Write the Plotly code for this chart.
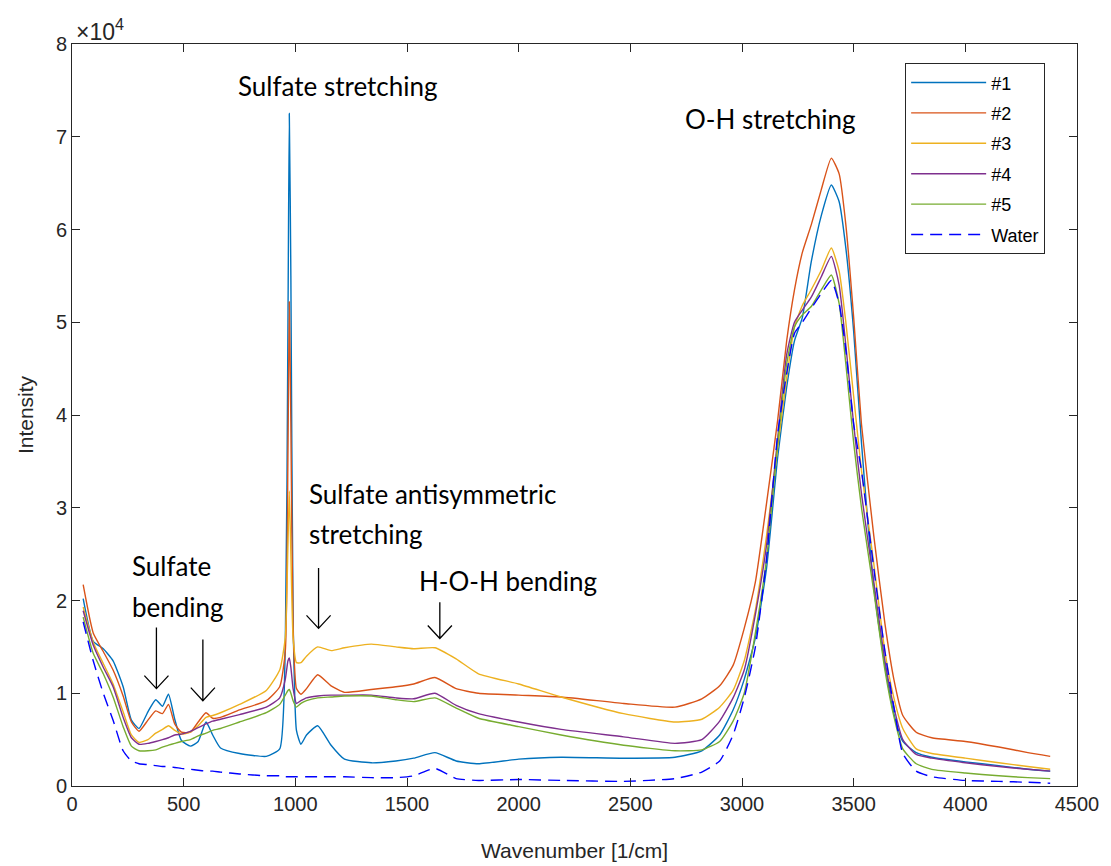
import plotly.graph_objects as go

# Raman shift grid (1/cm), shared by every spectrum
wavenumber = [50, 95, 140, 184, 229, 266, 300, 340, 375, 405, 432, 460, 490, 530, 565,
              600, 630, 665, 750, 870, 930, 955, 967, 973, 980, 990, 1005, 1025, 1050,
              1100, 1160, 1220, 1340, 1450, 1530, 1625, 1720, 1820, 2000, 2190, 2470,
              2700, 2820, 2900, 2960, 3010, 3060, 3110, 3160, 3200, 3235, 3270, 3310,
              3355, 3400, 3435, 3465, 3500, 3535, 3590, 3640, 3680, 3720, 3780, 3850,
              4000, 4150, 4280, 4380]

# Intensities in units of 1e4 counts
sample1 = [2.02, 1.56, 1.48, 1.35, 1.07, 0.71, 0.62, 0.80, 0.93, 0.86, 0.99, 0.72, 0.49,
           0.43, 0.48, 0.69, 0.55, 0.41, 0.35, 0.32, 0.40, 1.50, 5.00, 7.25, 5.50, 1.80,
           0.60, 0.45, 0.55, 0.65, 0.44, 0.29, 0.25, 0.27, 0.30, 0.36, 0.27, 0.24, 0.29,
           0.31, 0.30, 0.31, 0.38, 0.55, 0.82, 1.15, 1.60, 2.35, 3.55, 4.30, 4.80, 5.05,
           5.65, 6.15, 6.48, 6.30, 5.80, 4.90, 3.70, 2.15, 1.30, 0.78, 0.48, 0.36, 0.31,
           0.26, 0.22, 0.18, 0.16]
sample2 = [2.17, 1.65, 1.45, 1.25, 0.97, 0.69, 0.59, 0.71, 0.81, 0.78, 0.88, 0.67, 0.58,
           0.58, 0.69, 0.79, 0.73, 0.74, 0.82, 0.92, 1.07, 1.45, 3.60, 5.22, 3.90, 1.70,
           1.05, 0.99, 1.05, 1.20, 1.08, 1.01, 1.04, 1.07, 1.10, 1.17, 1.05, 1.00, 0.98,
           0.96, 0.89, 0.85, 0.94, 1.08, 1.30, 1.70, 2.20, 3.05, 3.95, 4.80, 5.35, 5.75,
           6.05, 6.43, 6.77, 6.60, 6.05, 5.05, 3.90, 2.70, 1.75, 1.15, 0.76, 0.58, 0.52,
           0.48, 0.42, 0.36, 0.32]
sample3 = [1.93, 1.55, 1.32, 1.10, 0.80, 0.55, 0.47, 0.50, 0.57, 0.61, 0.65, 0.60, 0.56,
           0.58, 0.65, 0.74, 0.76, 0.79, 0.88, 1.03, 1.25, 1.60, 2.60, 3.18, 2.50, 1.60,
           1.33, 1.33, 1.40, 1.50, 1.46, 1.49, 1.53, 1.50, 1.48, 1.49, 1.37, 1.21, 1.10,
           0.96, 0.78, 0.69, 0.72, 0.85, 1.03, 1.35, 1.90, 2.70, 3.65, 4.40, 4.95, 5.18,
           5.35, 5.56, 5.80, 5.55, 5.00, 4.20, 3.40, 2.40, 1.45, 0.95, 0.62, 0.40, 0.35,
           0.30, 0.25, 0.21, 0.18]
sample4 = [1.89, 1.52, 1.28, 1.07, 0.74, 0.52, 0.45, 0.46, 0.48, 0.50, 0.52, 0.55, 0.56,
           0.59, 0.63, 0.67, 0.70, 0.72, 0.77, 0.85, 0.95, 1.15, 1.35, 1.38, 1.28, 1.05,
           0.89, 0.92, 0.95, 0.97, 0.98, 0.98, 0.98, 0.95, 0.94, 1.00, 0.87, 0.78, 0.69,
           0.61, 0.53, 0.46, 0.50, 0.70, 0.95, 1.25, 1.85, 2.60, 3.75, 4.65, 5.00, 5.13,
           5.27, 5.49, 5.71, 5.40, 4.75, 3.90, 3.15, 2.20, 1.35, 0.85, 0.50, 0.34, 0.30,
           0.25, 0.21, 0.18, 0.16]
sample5 = [1.82, 1.43, 1.21, 0.96, 0.64, 0.43, 0.38, 0.38, 0.39, 0.42, 0.44, 0.46, 0.48,
           0.50, 0.54, 0.57, 0.60, 0.62, 0.69, 0.79, 0.88, 0.98, 1.03, 1.04, 1.00, 0.92,
           0.85, 0.89, 0.92, 0.95, 0.96, 0.97, 0.97, 0.93, 0.91, 0.95, 0.84, 0.73, 0.64,
           0.55, 0.44, 0.38, 0.39, 0.48, 0.70, 1.00, 1.65, 2.45, 3.70, 4.55, 4.95, 5.08,
           5.17, 5.35, 5.51, 5.20, 4.55, 3.70, 3.00, 2.10, 1.25, 0.75, 0.40, 0.24, 0.18,
           0.14, 0.11, 0.09, 0.08]
water = [1.77, 1.35, 1.00, 0.71, 0.38, 0.27, 0.24, 0.23, 0.22, 0.21, 0.21, 0.20, 0.19,
         0.18, 0.17, 0.16, 0.16, 0.15, 0.13, 0.11, 0.11, 0.10, 0.10, 0.10, 0.10, 0.10,
         0.10, 0.10, 0.10, 0.10, 0.10, 0.10, 0.09, 0.09, 0.11, 0.19, 0.08, 0.06, 0.07,
         0.06, 0.05, 0.08, 0.15, 0.27, 0.55, 0.95, 1.50, 2.45, 3.80, 4.45, 4.88, 5.00,
         5.15, 5.31, 5.45, 5.20, 4.70, 3.90, 3.40, 2.35, 1.45, 0.85, 0.35, 0.16, 0.10,
         0.06, 0.05, 0.04, 0.03]

series_names = ["#1", "#2", "#3", "#4", "#5", "Water"]
series_colors = ["#0072BD", "#D95319", "#EDB120", "#7E2F8E", "#77AC30", "#0000FF"]
series_values = [sample1, sample2, sample3, sample4, sample5, water]

x_ticks = [0, 500, 1000, 1500, 2000, 2500, 3000, 3500, 4000, 4500]
y_ticks = [0, 1, 2, 3, 4, 5, 6, 7, 8]

fig = go.Figure()
for name, color, vals in zip(series_names, series_colors, series_values):
    dash = "12px,7px" if name == "Water" else "solid"
    fig.add_trace(go.Scatter(
        x=wavenumber, y=vals, name=name, mode="lines", legendgroup=name,
        line=dict(color=color, width=1.4, dash=dash, shape="spline", smoothing=0.5),
    ))

label_font = dict(family="Lato, Open Sans, sans-serif", size=26, color="#000000")


def label(text, x, y, anchor="center"):
    fig.add_annotation(x=x, y=y, xref="x", yref="y", text=text, showarrow=False,
                       xanchor=anchor, yanchor="middle", font=label_font)


label("Sulfate stretching", 1192, 7.55)
label("O-H stretching", 3129, 7.19)
label("Sulfate antisymmetric", 1054, 3.15, "left")
label("stretching", 1054, 2.72, "left")
label("Sulfate", 259, 2.37, "left")
label("bending", 259, 1.93, "left")
label("H-O-H bending", 1545, 2.21, "left")


def down_arrow(x, y_top, y_tip, half_w=54, head_h=0.14):
    path = (f"M {x},{y_top} L {x},{y_tip} "
            f"M {x - half_w},{y_tip + head_h} L {x},{y_tip} L {x + half_w},{y_tip + head_h}")
    fig.add_shape(type="path", path=path, xref="x", yref="y",
                  line=dict(color="#000000", width=1.3))


down_arrow(378, 1.71, 1.05)
down_arrow(586, 1.58, 0.92)
down_arrow(1104, 2.35, 1.70)
down_arrow(1647, 1.98, 1.59)

axis_title_font = dict(family="Liberation Sans, Arial, sans-serif", size=21, color="#262626")

# exponent marker above the y axis
fig.add_annotation(x=0, y=1, xref="paper", yref="paper", xanchor="left", yanchor="bottom",
                   text="×10<sup>4</sup>", showarrow=False, xshift=2, yshift=-3,
                   font=dict(family="Liberation Sans, Arial, sans-serif", size=23, color="#262626"))

# x axis title placed below the tick labels
fig.add_annotation(x=0.5, y=0, xref="paper", yref="paper", xanchor="center", yanchor="middle",
                   text="Wavenumber [1/cm]", showarrow=False, yshift=-64,
                   font=axis_title_font)

axis_font = dict(family="Liberation Sans, Arial, sans-serif", size=20, color="#262626")
axis_common = dict(
    showgrid=False, zeroline=False, showline=True, linecolor="#262626", linewidth=1,
    mirror="ticks", ticks="inside", ticklen=8, tickcolor="#262626",
    tickfont=axis_font,
)

fig.update_xaxes(range=[0, 4500], tickvals=x_ticks, **axis_common)
fig.update_yaxes(range=[0, 8], tickvals=y_ticks, **axis_common,
                 title=dict(text="Intensity", standoff=16, font=axis_title_font))

fig.update_layout(
    width=1111, height=866,
    margin=dict(l=72, r=31, t=44, b=80),
    paper_bgcolor="white", plot_bgcolor="white",
    showlegend=True,
    legend=dict(x=0.829, y=0.974, xanchor="left", yanchor="top",
                bgcolor="white", bordercolor="#262626", borderwidth=1,
                itemwidth=75, tracegroupgap=4,
                font=dict(family="Liberation Sans, Arial, sans-serif", size=18, color="#000000")),
)

fig.write_html("out.html")
